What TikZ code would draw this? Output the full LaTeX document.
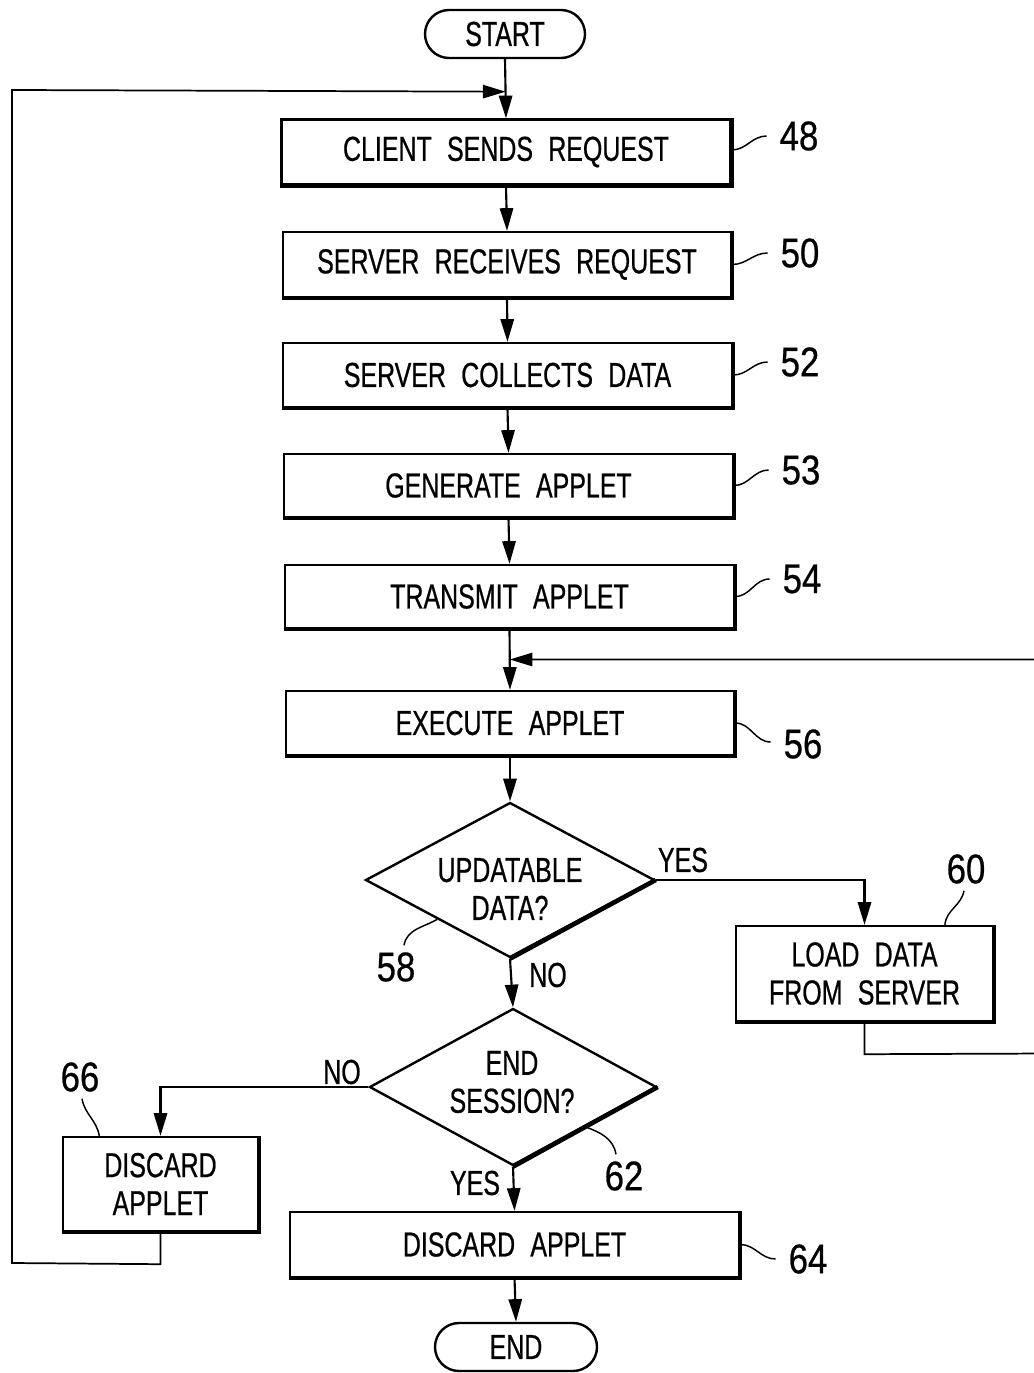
\documentclass[tikz,border=0pt]{standalone}
\usepackage{fontspec}
\setmainfont{Liberation Sans}[FakeStretch=0.72,WordSpace=2.2,FakeBold=0.6]
\newfontfamily\numfont{Liberation Sans}[FakeStretch=0.84,FakeBold=0.6]
\usetikzlibrary{arrows.meta,shapes.geometric,calc}
\newcommand\flowtxt{\fontsize{26}{28.5}\selectfont}
\begin{document}
\begin{tikzpicture}[x=0.75pt,y=-0.75pt,
  line width=1.6pt,
  arr/.style={-{Triangle[length=17pt,width=10pt]}},
  procbox/.style={draw,rectangle,line width=1.8pt,inner sep=0pt,align=center,font=\flowtxt},
  term/.style={draw,rectangle,rounded corners=18pt,line width=1.8pt,minimum height=36pt,inner sep=0pt,font=\flowtxt},
  dec/.style={draw,diamond,line width=1.8pt,inner sep=0pt},
  txtnode/.style={font=\flowtxt,align=center,inner sep=0pt},
  refnum/.style={font=\numfont\fontsize{31}{31}\selectfont,inner sep=0pt},
  lead/.style={line width=1.1pt},
  shadowedge/.style={line width=3pt},
]
\path[fill=white,use as bounding box] (0,0) rectangle (1034,1373);

% terminals
\node[term,minimum width=120pt] (start) at (505,34) {START};
\node[term,minimum width=121.5pt] (end) at (516,1347) {END};

% process boxes
\node[procbox,minimum width=336.75pt,minimum height=48.75pt] (b48) at (506,152) {CLIENT SENDS REQUEST};
\node[procbox,minimum width=336pt,minimum height=48.75pt] (b50) at (507,264.5) {SERVER RECEIVES REQUEST};
\node[procbox,minimum width=336.75pt,minimum height=48pt] (b52) at (507.5,375) {SERVER COLLECTS DATA};
\node[procbox,minimum width=336.75pt,minimum height=47.25pt] (b53) at (508.5,485.5) {GENERATE APPLET};
\node[procbox,minimum width=336.75pt,minimum height=47.25pt] (b54) at (509.5,596.5) {TRANSMIT APPLET};
\node[procbox,minimum width=336pt,minimum height=48pt] (b56) at (510,723) {EXECUTE APPLET};
\node[procbox,minimum width=192.75pt,minimum height=71.25pt] (b60) at (864.5,973.5) {LOAD DATA\\FROM SERVER};
\node[procbox,minimum width=146.25pt,minimum height=70.5pt] (b66) at (160.5,1184) {DISCARD\\APPLET};
\node[procbox,minimum width=336.75pt,minimum height=48.75pt] (b64) at (514.5,1244.5) {DISCARD APPLET};

% decisions
\node[dec,minimum width=216.75pt,minimum height=116.25pt] (d58) at (510,880) {};
\node[txtnode] (t58) at (510,889) {UPDATABLE\\DATA?};
\node[dec,minimum width=215.25pt,minimum height=117.75pt] (d62) at (513,1087) {};
\node[txtnode] (t62) at (512,1082) {END\\SESSION?};

% thicker shadow edges
\foreach \n in {b48,b50,b52,b53,b54,b56,b60,b66,b64}
  \draw[shadowedge] (\n.south west) -- (\n.south east) -- (\n.north east);
\draw[line width=3.4pt] (d58.east) -- (d58.south);
\draw[line width=3.4pt] (d62.east) -- (d62.south);

% junctions
\coordinate (j1) at ($(start.south)!0.55!(b48.north)$);
\coordinate (j2) at ($(b54.south)!0.5!(b56.north)$);

% main flow
\draw[arr] (start.south) -- (b48.north);
\draw[arr] (b48.south) -- (b50.north);
\draw[arr] (b50.south) -- (b52.north);
\draw[arr] (b52.south) -- (b53.north);
\draw[arr] (b53.south) -- (b54.north);
\draw[arr] (b54.south) -- (b56.north);
\draw[arr] (b56.south) -- (d58.north);
\draw[arr] (d58.south) -- (d62.north);
\draw[arr] (d62.south) -- (b64.north);
\draw[arr] (b64.south) -- (end.north);
\draw[arr] (d58.east) -| (b60.north);
\draw[arr] (d62.west) -| (b66.north);

% loops
\begin{scope}
\clip (0,0) rectangle (1034,1373);
\draw[arr,line width=1.3pt] (b60.south) -- ($(b60.south)+(0,32)$) -- (1050,1053.5) -- (1050,659.5) -- (j2);
\end{scope}
\draw[arr,line width=1.3pt] (b66.south) -- ($(b66.south)+(0,32)$) -- (12,1263) -- (12,90) -- (j1);

% branch labels
\node[txtnode] (yes1) at (683,860) {YES};
\node[txtnode] (no1) at (548,975) {NO};
\node[txtnode] (no2) at (342,1072) {NO};
\node[txtnode] (yes2) at (475,1183) {YES};

% reference numerals
\node[refnum] (l48) at (799,136) {48};
\node[refnum] (l50) at (800,253) {50};
\node[refnum] (l52) at (800,362) {52};
\node[refnum] (l53) at (801,470) {53};
\node[refnum] (l54) at (802,579) {54};
\node[refnum] (l56) at (803,744) {56};
\node[refnum] (l58) at (396,967) {58};
\node[refnum] (l60) at (966,869) {60};
\node[refnum] (l62) at (624,1176) {62};
\node[refnum] (l64) at (808,1259) {64};
\node[refnum] (l66) at (80,1077) {66};

% leaders
\draw[lead] ($(b48.east)+(0,-2)$) to[out=0,in=180] ($(l48.west)+(-12,0)$);
\draw[lead] (b50.east) to[out=0,in=180] ($(l50.west)+(-12,0)$);
\draw[lead] (b52.east) to[out=0,in=180] ($(l52.west)+(-12,0)$);
\draw[lead] (b53.east) to[out=0,in=180] ($(l53.west)+(-12,0)$);
\draw[lead] (b54.east) to[out=0,in=180] ($(l54.west)+(-12,0)$);
\draw[lead] (b56.east) to[out=0,in=180] ($(l56.west)+(-12,-2)$);
\draw[lead] (b64.east) to[out=0,in=180] ($(l64.west)+(-12,0)$);
\draw[lead] (d58.south west) to[out=210,in=80] ($(l58.north)+(8,-6)$);
\draw[lead] (d62.south east) to[out=-20,in=100] ($(l62.north)+(-8,-6)$);
\draw[lead] ($(b60.north west)!0.81!(b60.north east)$) to[out=85,in=-100] ($(l60.south)+(-2,6)$);
\draw[lead] ($(b66.north west)!0.19!(b66.north east)$) to[out=100,in=-80] ($(l66.south)+(2,6)$);
\end{tikzpicture}
\end{document}
